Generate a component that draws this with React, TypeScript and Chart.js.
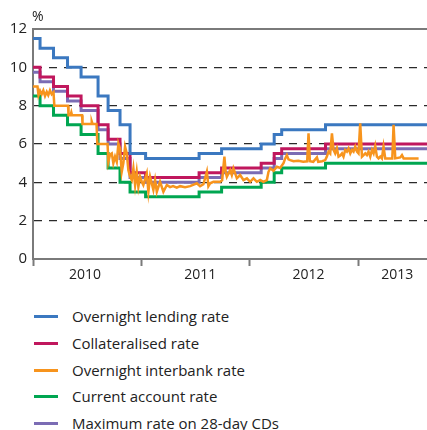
import React, { useEffect, useRef } from "react";
import { Chart, registerables } from "chart.js";

Chart.register(...registerables);

// Months since the start of 2010 at which the policy rates changed
const stepMonths = [0, 0.78, 2.27, 3.82, 5.32, 7.2, 8.31, 9.63, 10.74, 12.46, 18.38, 20.87, 25.25, 26.69, 27.52, 32.37, 43.6];
const overnightLending = [11.5, 11.0, 10.5, 10.0, 9.5, 8.5, 7.75, 7.0, 5.5, 5.25, 5.5, 5.75, 6.0, 6.5, 6.75, 7.0, 7.0];
const collateralised = [10.0, 9.5, 9.0, 8.5, 8.0, 7.0, 6.25, 5.5, 4.5, 4.25, 4.5, 4.75, 5.0, 5.5, 5.75, 6.0, 6.0];
const currentAccount = [8.5, 8.0, 7.5, 7.0, 6.5, 5.5, 4.75, 4.0, 3.5, 3.25, 3.5, 3.75, 4.0, 4.5, 4.75, 5.0, 5.0];
const maxCD28 = [9.75, 9.25, 8.75, 8.25, 7.75, 6.75, 6.0, 5.25, 4.25, 4.0, 4.25, 4.5, 4.75, 5.25, 5.5, 5.75, 5.75];

// Overnight interbank rate (daily market rate, sampled)
const interbankMonths = [
  0, 0.5, 0.61, 0.78, 0.96, 1.14, 1.33, 1.52, 1.69, 1.88, 2.07, 2.27, 2.36, 3.88, 3.93, 4.15, 4.24, 4.32, 5.43, 5.48,
  6.42, 6.5, 6.59, 7.03, 7.12, 8.25, 8.34, 8.53, 8.72, 8.89, 9.08, 9.27, 9.45, 9.63, 9.82, 10.0, 10.19, 10.38, 10.55, 10.74,
  10.93, 11.11, 11.3, 11.48, 11.66, 11.85, 12.04, 12.21, 12.59, 12.77, 12.96, 13.32, 13.51, 13.7, 14.06, 14.43, 14.81, 15.17, 15.5, 15.91,
  16.28, 16.83, 17.39, 18.13, 18.49, 18.86, 19.24, 19.41, 19.6, 19.97, 20.71, 20.93, 21.18, 21.32, 21.45, 21.82, 22.0, 22.18, 22.56, 22.92,
  23.29, 23.67, 24.03, 24.4, 24.77, 25.14, 25.5, 25.88, 26.06, 26.25, 26.61, 26.99, 27.35, 27.72, 27.91, 28.09, 28.27, 28.46, 28.83, 29.35,
  29.9, 30.34, 30.49, 30.64, 31.01, 31.42, 31.56, 32.0, 32.34, 32.52, 32.7, 32.89, 33.08, 33.26, 33.44, 33.63, 33.81, 34.0, 34.19, 34.36,
  34.55, 34.74, 34.92, 35.11, 35.29, 35.47, 35.66, 35.85, 36.02, 36.21, 36.4, 36.58, 36.77, 36.95, 37.13, 37.32, 37.51, 37.69, 37.87, 38.06,
  38.24, 38.43, 38.61, 38.79, 38.98, 39.76, 39.9, 40.09, 40.64, 40.83, 41.01, 42.67,
];
const interbankRate = [
  9.0, 9.0, 8.55, 8.78, 8.6, 8.8, 8.5, 8.72, 8.55, 8.8, 8.6, 8.7, 8.0, 8.0, 7.5, 7.5, 7.65, 7.5, 7.5, 7.05,
  7.05, 7.18, 7.05, 7.05, 6.0, 6.0, 5.07, 5.45, 5.51, 5.0, 5.34, 5.07, 6.03, 5.77, 4.55, 5.0, 5.86, 5.51, 4.64, 4.3,
  4.12, 4.73, 3.86, 4.55, 3.77, 4.29, 4.03, 3.86, 4.47, 3.51, 4.29, 3.6, 4.12, 3.51, 4.03, 3.51, 3.86, 3.75, 3.8, 3.72,
  3.8, 3.75, 3.8, 3.95, 3.8, 3.9, 4.55, 3.8, 3.95, 4.03, 4.03, 4.1, 5.34, 4.55, 4.29, 4.64, 4.38, 4.73, 4.21, 4.38,
  4.12, 4.21, 4.03, 4.21, 4.03, 4.12, 4.03, 4.12, 4.55, 4.73, 4.6, 4.81, 4.75, 5.0, 5.25, 5.42, 5.2, 5.16, 5.1, 5.12,
  5.08, 5.1, 6.56, 5.1, 5.07, 5.3, 5.07, 5.1, 5.16, 5.34, 5.6, 5.5, 6.56, 5.69, 5.51, 5.77, 5.34, 5.4, 5.51, 5.34,
  5.69, 5.6, 5.77, 5.51, 5.69, 5.6, 5.86, 5.6, 5.51, 7.08, 5.34, 5.42, 5.51, 5.42, 5.6, 5.34, 5.69, 5.51, 5.9, 5.34,
  5.25, 5.34, 5.25, 5.86, 5.25, 5.25, 7.0, 5.25, 5.3, 5.42, 5.25, 5.25,
];

const yearTickMonths = [0, 12, 24, 36];
const yearLabelMonths = [5.76, 18.5, 30.5, 40.3];
const yearLabels = ["2010", "2011", "2012", "2013"];
const yTicks = [0, 2, 4, 6, 8, 10, 12];

const seriesNames = [
  "Overnight lending rate",
  "Collateralised rate",
  "Overnight interbank rate",
  "Current account rate",
  "Maximum rate on 28-day CDs",
];
const seriesColors = ["#3b78c0", "#c0175d", "#f7941d", "#00a651", "#7b6cb4"];

const FONT = "'Open Sans', 'DejaVu Sans', sans-serif";

const toPoints = (xs: number[], ys: number[]) => xs.map((x, i) => ({ x, y: ys[i] }));

export default function App() {
  const canvasRef = useRef<HTMLCanvasElement | null>(null);

  useEffect(() => {
    const canvas = canvasRef.current;
    if (!canvas) return;

    const tickValues = [...yearTickMonths, ...yearLabelMonths].sort((a, b) => a - b);

    const framePlugin = {
      id: "frame",
      afterDraw(chart: any) {
        const { ctx, chartArea } = chart;
        ctx.save();
        ctx.strokeStyle = "#7a7a7a";
        ctx.lineWidth = 2;
        ctx.beginPath();
        ctx.moveTo(chartArea.left, chartArea.top);
        ctx.lineTo(chartArea.right, chartArea.top);
        ctx.stroke();
        ctx.fillStyle = "#222";
        ctx.font = `14px ${FONT}`;
        ctx.textAlign = "left";
        ctx.textBaseline = "middle";
        ctx.fillText("%", chartArea.left - 1, 17);
        ctx.restore();
      },
    };

    const stepSeries = [overnightLending, collateralised, null, currentAccount, maxCD28];
    const orders = [1, 2, 0, 3, 4];

    const datasets = seriesNames.map((name, i) => {
      const values = stepSeries[i];
      const isStep = values !== null;
      return {
        label: name,
        data: isStep ? toPoints(stepMonths, values as number[]) : toPoints(interbankMonths, interbankRate),
        borderColor: seriesColors[i],
        backgroundColor: seriesColors[i],
        borderWidth: isStep ? 3 : 2.5,
        pointRadius: 0,
        stepped: isStep ? "before" : false,
        tension: 0,
        fill: false,
        order: orders[i],
        borderJoinStyle: "miter",
      } as any;
    });

    const chart = new Chart(canvas, {
      type: "line",
      data: { datasets },
      plugins: [framePlugin],
      options: {
        animation: false,
        responsive: false,
        maintainAspectRatio: false,
        layout: { padding: { top: 29, right: 0, left: 0, bottom: 0 } },
        plugins: { legend: { display: false }, tooltip: { enabled: false }, title: { display: false } },
        scales: {
          x: {
            type: "linear",
            min: 0,
            max: 43.6,
            afterBuildTicks: (axis: any) => {
              axis.ticks = tickValues.map((v) => ({ value: v }));
            },
            afterFit: (axis: any) => {
              axis.height = 31;
            },
            ticks: {
              autoSkip: false,
              maxRotation: 0,
              minRotation: 0,
              padding: 1,
              color: "#222",
              font: { size: 14, family: FONT },
              callback: (value: any) => {
                const idx = yearLabelMonths.indexOf(Number(value));
                return idx >= 0 ? yearLabels[idx] : "";
              },
            },
            grid: {
              display: true,
              drawOnChartArea: false,
              drawTicks: true,
              tickLength: 7,
              tickWidth: 2,
              tickColor: (ctx: any) =>
                ctx.tick && yearTickMonths.includes(ctx.tick.value) ? "#7a7a7a" : "rgba(0,0,0,0)",
            },
            border: { display: true, color: "#7a7a7a", width: 2 },
          },
          y: {
            min: 0,
            max: 12,
            afterBuildTicks: (axis: any) => {
              axis.ticks = yTicks.map((v) => ({ value: v }));
            },
            afterFit: (axis: any) => {
              axis.width = 33;
            },
            ticks: {
              padding: 6,
              color: "#222",
              font: { size: 15, family: FONT },
            },
            grid: {
              drawTicks: false,
              lineWidth: 1.3,
              color: (ctx: any) =>
                ctx.tick && (ctx.tick.value === 0 || ctx.tick.value === 12) ? "rgba(0,0,0,0)" : "#2a2a2a",
            },
            border: { display: true, color: "#7a7a7a", width: 2, dash: [8, 7] },
          },
        },
      } as any,
    });

    return () => chart.destroy();
  }, []);

  return (
    <div style={{ position: "absolute", left: 0, top: 0, width: 427, height: 430, background: "#fff", fontFamily: FONT }}>
      <canvas ref={canvasRef} width={427} height={290} style={{ display: "block", width: 427, height: 290 }} />
      <div style={{ position: "absolute", left: 0, top: 303, width: 427 }}>
        {seriesNames.map((name, i) => (
          <div key={name} style={{ position: "relative", height: 26.75 }}>
            <div
              style={{
                position: "absolute",
                left: 34,
                top: 12,
                width: 24,
                height: 3,
                background: seriesColors[i],
              }}
            />
            <div
              style={{
                position: "absolute",
                left: 72,
                top: 0,
                lineHeight: "26.75px",
                fontSize: 15,
                color: "#222",
                whiteSpace: "nowrap",
              }}
            >
              {name}
            </div>
          </div>
        ))}
      </div>
    </div>
  );
}
